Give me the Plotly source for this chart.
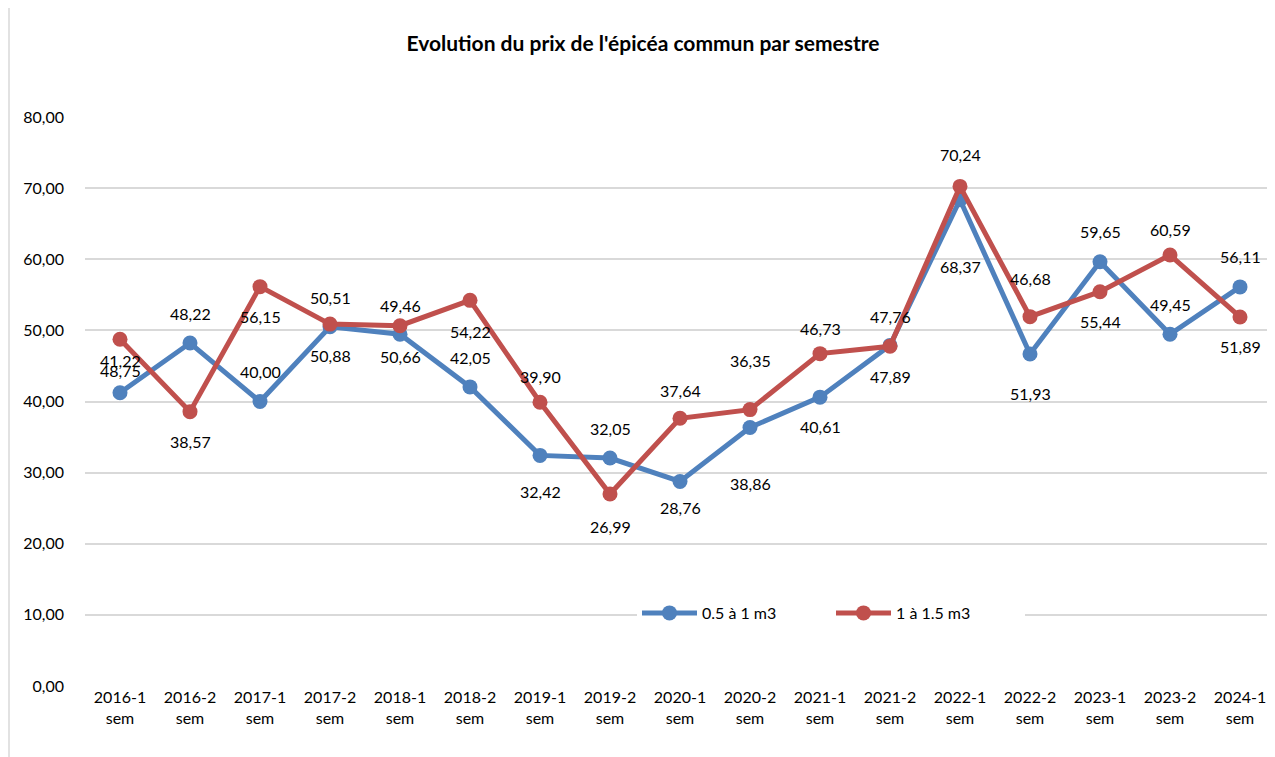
import plotly.graph_objects as go

categories = ["2016-1 sem", "2016-2 sem", "2017-1 sem", "2017-2 sem", "2018-1 sem",
              "2018-2 sem", "2019-1 sem", "2019-2 sem", "2020-1 sem", "2020-2 sem",
              "2021-1 sem", "2021-2 sem", "2022-1 sem", "2022-2 sem", "2023-1 sem",
              "2023-2 sem", "2024-1 sem"]
tick_labels = [c.replace(" ", "<br>") for c in categories]

small_logs = [41.22, 48.22, 40.00, 50.51, 49.46, 42.05, 32.42, 32.05, 28.76, 36.35,
              40.61, 47.89, 68.37, 46.68, 59.65, 49.45, 56.11]
large_logs = [48.75, 38.57, 56.15, 50.88, 50.66, 54.22, 39.90, 26.99, 37.64, 38.86,
              46.73, 47.76, 70.24, 51.93, 55.44, 60.59, 51.89]

series_names = ["0.5 à 1 m3", "1 à 1.5 m3"]
colors = ["#4F81BD", "#C0504D"]

# label offsets in pixels (positive = label below the point)
small_label_off = [-32, -30, -30, -29, -29, -29, 36, -30, 26, -67, 29, 31, 67, -75, -30, -30, -30]
large_label_off = [31, 30, 30, 31, 31, 31, -26, 32, -28, 74, -25, -30, -32, 77, 30, -26, 30]

FONT = "Lato, 'Open Sans', sans-serif"

# plot area in figure pixels (page adds 8px body margin)
L, R, T, B = 77, 8, 109, 79
W, H = 1275, 757
PW, PH = W - L - R, H - T - B

fig = go.Figure()
for name, vals, col in zip(series_names, [small_logs, large_logs], colors):
    fig.add_trace(go.Scatter(
        x=categories, y=vals, name=name, mode="lines+markers",
        line=dict(color=col, width=5),
        marker=dict(color=col, size=15),
    ))

def fmt(v):
    return f"{v:.2f}".replace(".", ",")

annotations = []
for vals, offs in [(small_logs, small_label_off), (large_logs, large_label_off)]:
    for c, v, o in zip(categories, vals, offs):
        annotations.append(dict(
            x=c, y=v, xref="x", yref="y", text=fmt(v), showarrow=False,
            yshift=-o, font=dict(family=FONT, size=16, color="#000000"),
        ))

fig.update_layout(
    width=W, height=H,
    margin=dict(l=L, r=R, t=T, b=B),
    paper_bgcolor="white", plot_bgcolor="white",
    separators=", ",
    title=dict(text="<b>Evolution du prix de l'épicéa commun par semestre</b>",
               x=635 / W, xanchor="center", xref="container",
               y=1 - 36 / H, yanchor="middle", yref="container",
               font=dict(family=FONT, size=21, color="#000000")),
    font=dict(family=FONT, size=16, color="#000000"),
    legend=dict(orientation="h", x=(629 - L) / PW, xanchor="left",
                y=(H - B - 605) / PH, yanchor="middle",
                bgcolor="white", font=dict(family=FONT, size=16, color="#000000"),
                itemwidth=55, entrywidth=124),
    showlegend=True,
    annotations=annotations,
    shapes=[
        dict(type="line", xref="paper", yref="paper", x0=-(L - 1) / PW, x1=-(L - 1) / PW,
             y0=-B / PH, y1=(PH + T) / PH, line=dict(color="#D9D9D9", width=1.5)),
    ],
)

fig.update_xaxes(
    type="category", range=[-0.5, len(categories) - 0.5],
    tickmode="array", tickvals=categories, ticktext=tick_labels,
    showgrid=False, showline=False, zeroline=False, ticks="",
    tickfont=dict(family=FONT, size=16, color="#000000"),
)
fig.update_yaxes(
    range=[0, 80], dtick=10, tickformat=".2f",
    showgrid=True, gridcolor="#D9D9D9", gridwidth=1.5,
    zeroline=False, showline=False, ticks="", ticklabelstandoff=20,
    tickfont=dict(family=FONT, size=16, color="#000000"),
)

fig.write_html("out.html")
